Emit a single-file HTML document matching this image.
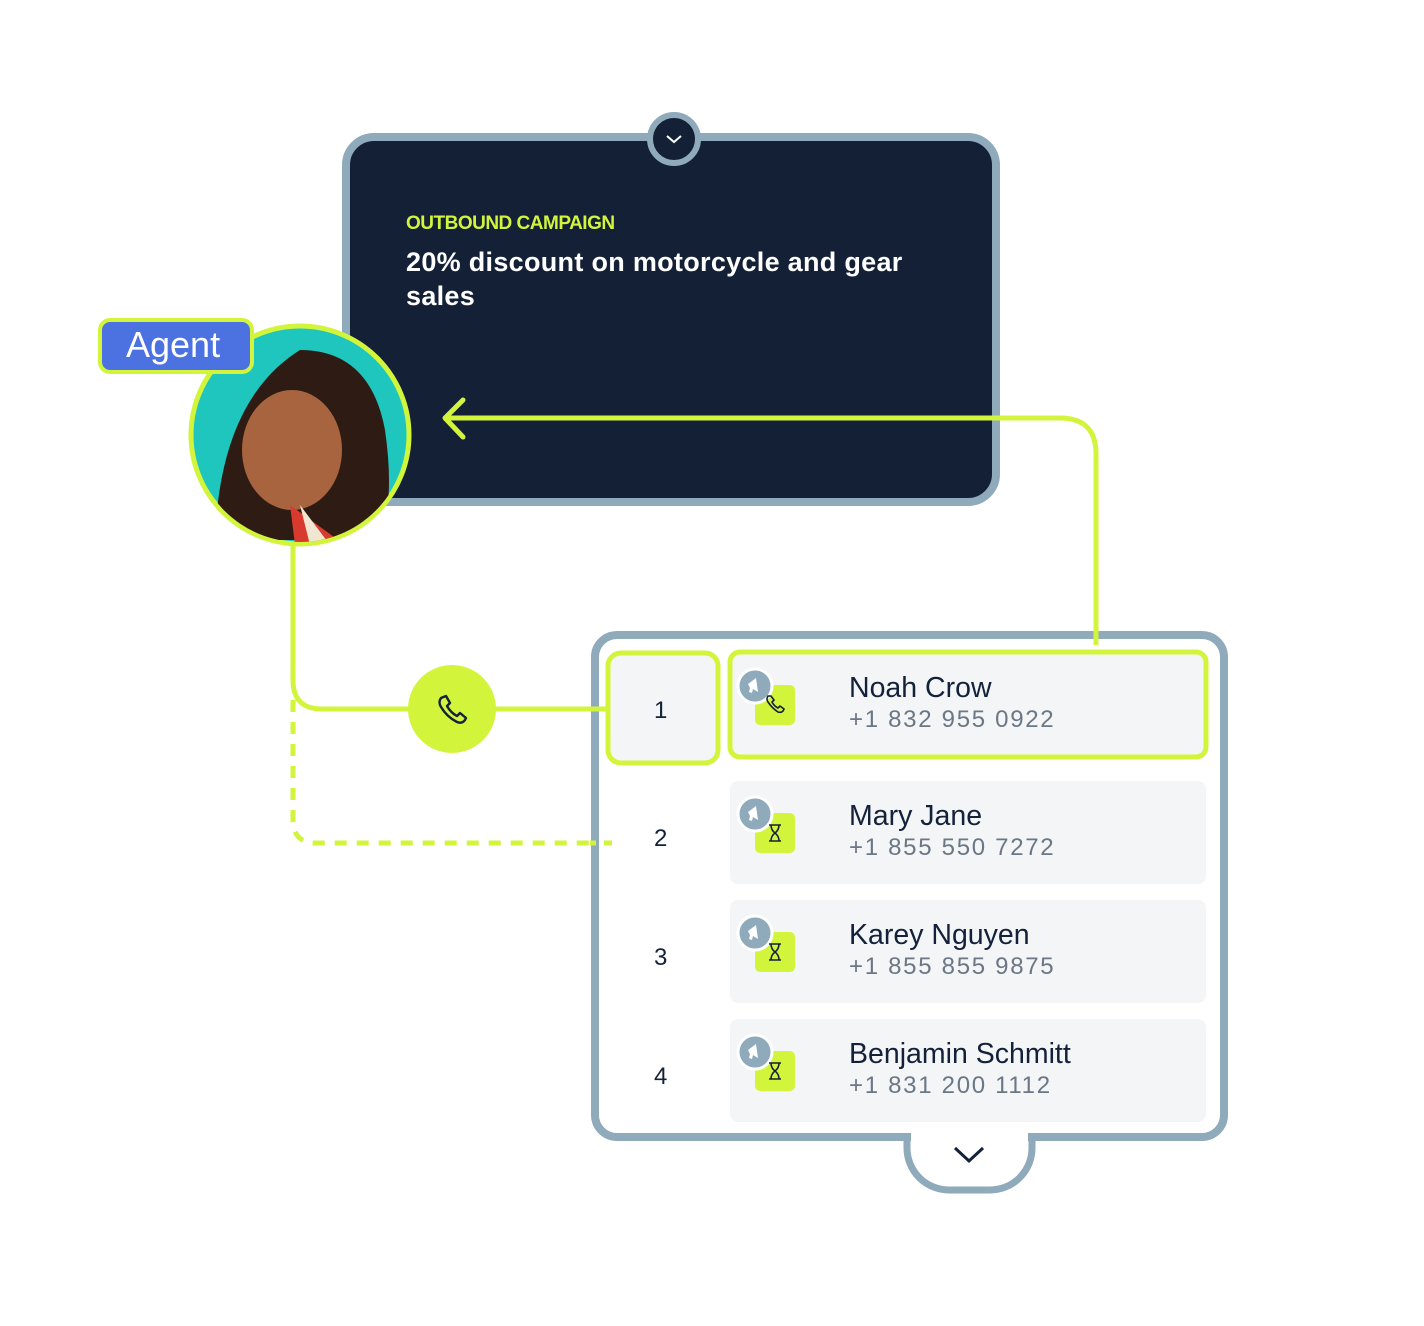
<!DOCTYPE html>
<html><head><meta charset="utf-8"><style>
body{margin:0;width:1424px;height:1326px;background:#fff;position:relative;overflow:hidden;font-family:"Liberation Sans",sans-serif}
.t{position:absolute;white-space:nowrap}
.nm{font-size:28.5px;color:#14213a}
.ph{font-size:24px;color:#6b7785;letter-spacing:1.7px}
.num{font-size:24px;color:#14213a}
</style></head><body>
<svg width="1424" height="1326" style="position:absolute;left:0;top:0">
<defs>
<g id="ic">
<rect x="755" y="685" width="40" height="40" rx="5" fill="#d2f53c"/>
<circle cx="755" cy="686" r="17" fill="#8eaabb" stroke="#fff" stroke-width="3"/>
<path d="M748 684 l8 -6 l2 14 l-5 -3 l-1 4 l-3 -1 l1 -4 z" fill="#fff"/>
</g>
<g id="hg" fill="none" stroke="#14213a" stroke-width="1.6">
<path d="M769 697 h12 M769 713 h12 M771 697 q0 5 4 8 q-4 3 -4 8 M779 697 q0 5 -4 8 q4 3 4 8"/>
</g>
</defs>
<!-- dark card -->
<rect x="346" y="137" width="650" height="365" rx="28" fill="#132036" stroke="#8eaabb" stroke-width="8"/>
<circle cx="674" cy="139" r="24" fill="#132036" stroke="#8eaabb" stroke-width="6"/>
<path d="M667 136 l7 6 l7 -6" fill="none" stroke="#fff" stroke-width="2"/>
<!-- connectors -->
<path d="M445 418 H1060 Q1096 418 1096 454 V642" fill="none" stroke="#d2f53c" stroke-width="5"/>
<path d="M463 400 L445 418 L463 437" fill="none" stroke="#d2f53c" stroke-width="5" stroke-linecap="round" stroke-linejoin="round"/>
<path d="M293 545 V680 Q293 709 322 709 H608" fill="none" stroke="#d2f53c" stroke-width="5"/>
<path d="M293 700 V820 Q293 843 316 843 H612" fill="none" stroke="#d2f53c" stroke-width="5" stroke-dasharray="12 10"/>
<!-- agent -->
<circle cx="300" cy="435" r="109" fill="#1ec6bd" stroke="#d2f53c" stroke-width="5"/>
<clipPath id="cc"><circle cx="300" cy="435" r="107"/></clipPath>
<g clip-path="url(#cc)">
<path d="M215 540 Q220 400 300 350 Q370 350 385 430 Q395 500 380 540 Z" fill="#2e1c14"/>
<ellipse cx="292" cy="450" rx="50" ry="60" fill="#a8643e"/>
<path d="M290 505 L345 545 L295 545 Z" fill="#d93a2e"/>
<path d="M300 505 L330 545 L310 545 Z" fill="#f1e6d0"/>
</g>
<rect x="100" y="320" width="152" height="52" rx="10" fill="#4c72e2" stroke="#d2f53c" stroke-width="4"/>
<!-- phone circle -->
<circle cx="452" cy="709" r="44" fill="#d2f53c"/>
<path d="M441 698 q-3 4 0 9 q6 10 16 15 q5 2 8 -2 l1 -2 l-6 -5 l-3 3 q-6 -3 -10 -10 l3 -3 l-4 -7 z" fill="none" stroke="#14213a" stroke-width="2.4" stroke-linejoin="round"/>
<!-- list panel -->
<rect x="907" y="1100" width="125" height="90" rx="42" fill="#fff" stroke="#8eaabb" stroke-width="7"/>
<rect x="595" y="635" width="629" height="502" rx="22" fill="#fff" stroke="#8eaabb" stroke-width="8"/>
<rect x="911" y="1120" width="117" height="30" fill="#fff"/>
<path d="M955 1148 l14 13 l14 -13" fill="none" stroke="#14213a" stroke-width="3"/>
<path d="M588 709 H608 M590 843 H596 M604 843 H612" stroke="#d2f53c" stroke-width="5"/>
<path d="M1096 628 V645" stroke="#d2f53c" stroke-width="5"/>
<rect x="608" y="653" width="110" height="110" rx="13" fill="#f3f5f7" stroke="#d2f53c" stroke-width="5"/>
<rect x="730" y="652" width="476" height="105" rx="10" fill="#f3f5f7" stroke="#d2f53c" stroke-width="5"/>
<rect x="730" y="781" width="476" height="103" rx="8" fill="#f3f5f7"/>
<rect x="730" y="900" width="476" height="103" rx="8" fill="#f3f5f7"/>
<rect x="730" y="1019" width="476" height="103" rx="8" fill="#f3f5f7"/>
<use href="#ic"/>
<path d="M768 696 q-2 3 0 6 q4 6 10 10 q3 1 5 -1 l1 -2 l-4 -3 l-2 2 q-4 -2 -6 -6 l2 -2 l-3 -4 z" fill="none" stroke="#14213a" stroke-width="1.6"/>
<g transform="translate(0,128)"><use href="#ic"/><use href="#hg"/></g>
<g transform="translate(0,247)"><use href="#ic"/><use href="#hg"/></g>
<g transform="translate(0,366)"><use href="#ic"/><use href="#hg"/></g>
</svg>
<div class="t" style="left:406px;top:213px;font-size:19px;font-weight:bold;color:#d2f53c;letter-spacing:-0.5px">OUTBOUND CAMPAIGN</div>
<div class="t" style="left:406px;top:245px;font-size:27px;font-weight:bold;color:#fff;line-height:34px;white-space:normal;width:540px;letter-spacing:0.3px">20% discount on motorcycle and gear sales</div>
<div class="t" style="left:126px;top:324px;font-size:36px;color:#fff">Agent</div>
<div class="t num" style="left:654px;top:697px">1</div>
<div class="t num" style="left:654px;top:825px">2</div>
<div class="t num" style="left:654px;top:944px">3</div>
<div class="t num" style="left:654px;top:1063px">4</div>
<div class="t nm" style="left:849px;top:672px">Noah Crow</div>
<div class="t ph" style="left:849px;top:706px">+1 832 955 0922</div>
<div class="t nm" style="left:849px;top:800px">Mary Jane</div>
<div class="t ph" style="left:849px;top:834px">+1 855 550 7272</div>
<div class="t nm" style="left:849px;top:919px">Karey Nguyen</div>
<div class="t ph" style="left:849px;top:953px">+1 855 855 9875</div>
<div class="t nm" style="left:849px;top:1038px">Benjamin Schmitt</div>
<div class="t ph" style="left:849px;top:1072px">+1 831 200 1112</div>
</body></html>
